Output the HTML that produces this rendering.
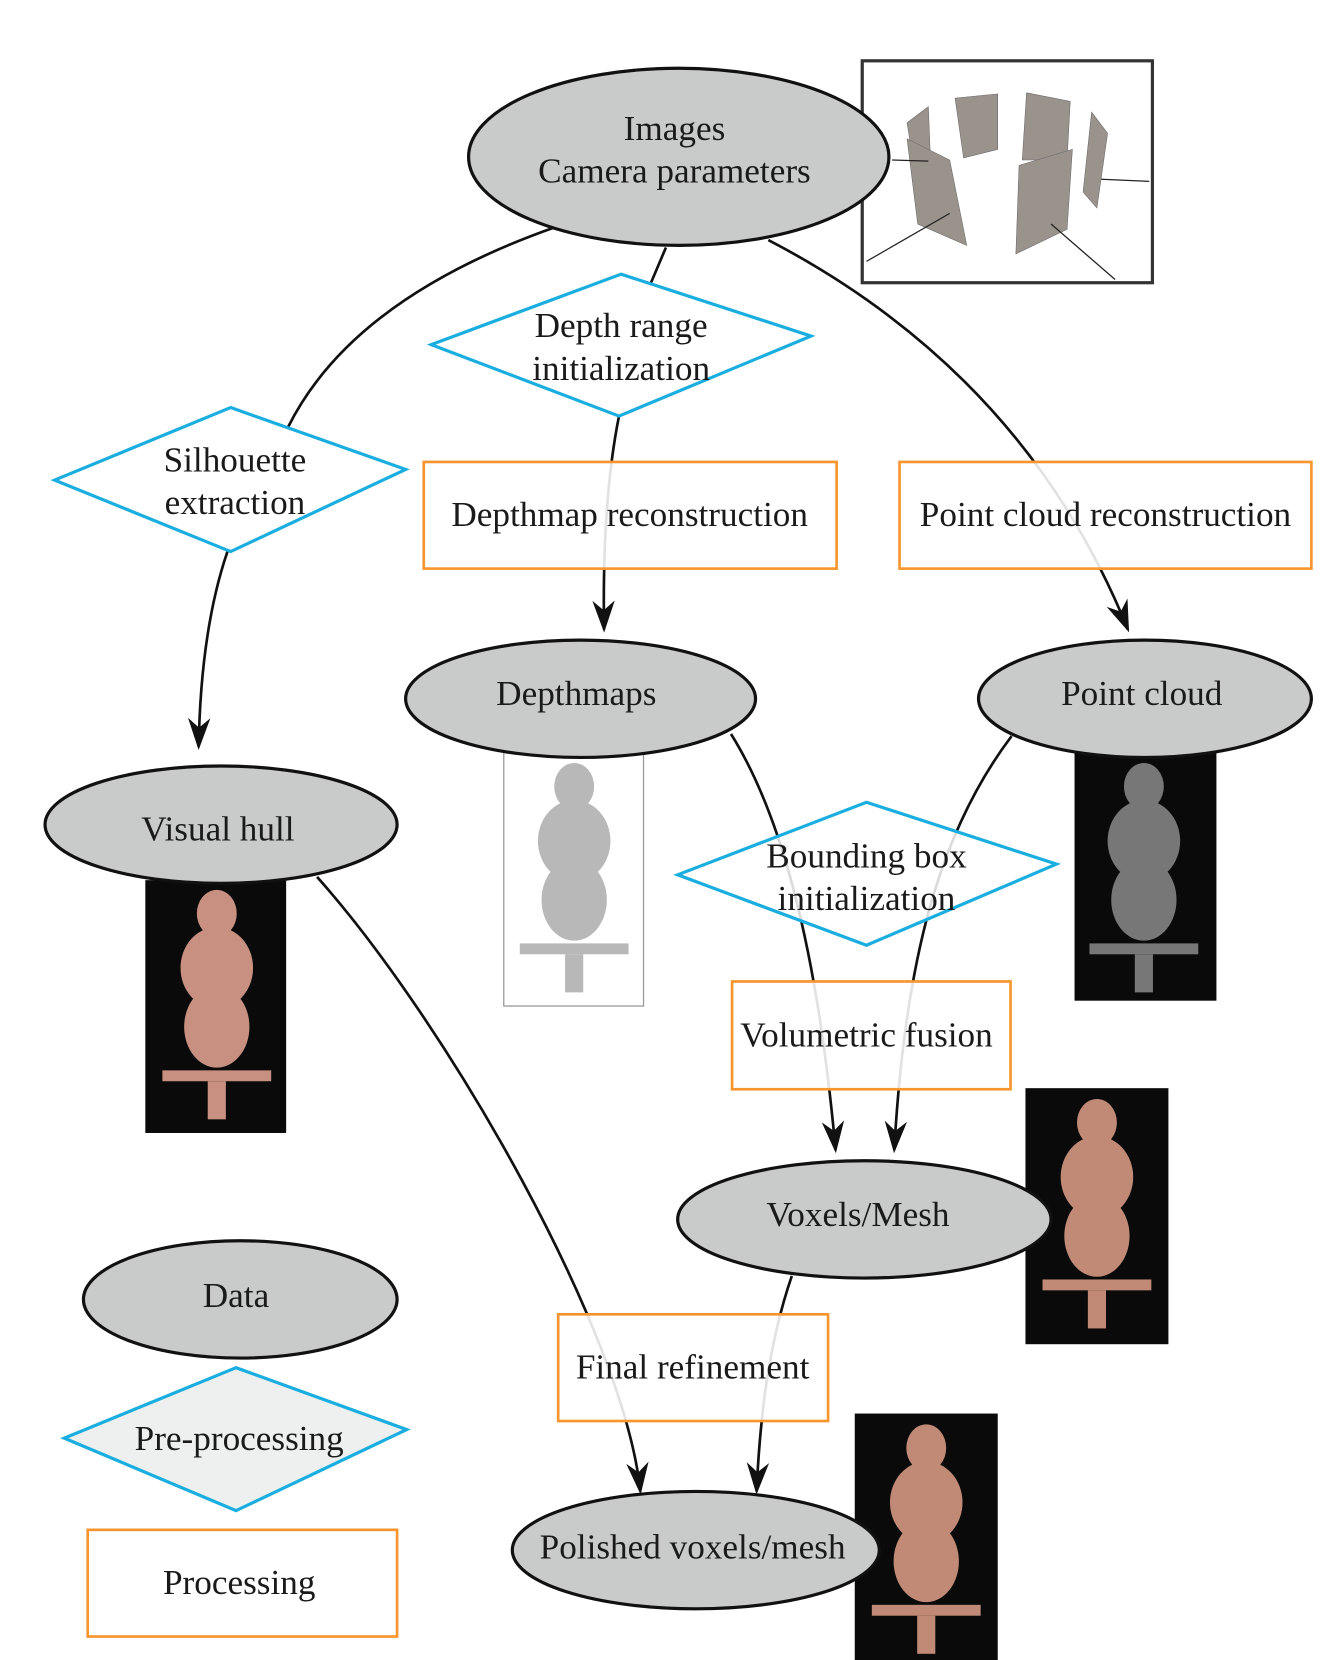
<!DOCTYPE html>
<html><head><meta charset="utf-8"><style>
html,body{margin:0;padding:0;background:#fff;}
svg{display:block;}
text{font-family:"Liberation Serif",serif;font-size:33px;fill:#1a1a1a;text-anchor:middle;}
</style></head><body>
<svg width="1334" height="1660" viewBox="0 0 1250 1556" xmlns="http://www.w3.org/2000/svg">
<defs>
<marker id="ar" viewBox="0 0 20 20" refX="18" refY="10" markerWidth="30" markerHeight="30" markerUnits="userSpaceOnUse" orient="auto">
<path d="M0,3 L20,10 L0,17 L6,10 Z" fill="#111"/>
</marker>
<g id="statue" transform="scale(0.85)">
<ellipse cx="0" cy="-95" rx="22" ry="26"/>
<ellipse cx="0" cy="-35" rx="40" ry="45"/>
<ellipse cx="0" cy="30" rx="36" ry="45"/>
<rect x="-60" y="78" width="120" height="12"/>
<rect x="-10" y="90" width="20" height="42"/>
</g>
</defs>

<g fill="none" stroke="#111" stroke-width="2.5">
<path d="M520,213 Q330,280 270,400"/>
<path d="M213,517 Q188,590 186,700" marker-end="url(#ar)"/>
<path d="M624,232 L610,265"/>
<path d="M580,390 Q564,470 566,590" marker-end="url(#ar)"/>
<path d="M720,225 Q960,350 1057,590" marker-end="url(#ar)"/>
<path d="M685,688 C730,760 765,880 783,1078" marker-end="url(#ar)"/>
<path d="M948,690 C880,780 848,900 838,1078" marker-end="url(#ar)"/>
<path d="M297,822 C420,960 585,1250 600,1398" marker-end="url(#ar)"/>
<path d="M742,1196 C720,1260 712,1330 709,1398" marker-end="url(#ar)"/>
</g>

<rect x="808" y="57" width="272" height="208" fill="#fff" stroke="#333" stroke-width="3"/>
<g fill="#9a938c" stroke="#666" stroke-width="0.5">
<polygon points="850,115 870,100 872,150 858,165"/>
<polygon points="850,130 890,150 906,230 860,210"/>
<polygon points="895,92 935,88 935,140 903,148"/>
<polygon points="962,87 1003,95 1000,150 958,150"/>
<polygon points="955,155 1005,140 1000,215 952,238"/>
<polygon points="1023,105 1038,125 1028,195 1015,180"/>
</g>
<g stroke="#222" stroke-width="1.2" fill="none">
<path d="M812,245 L890,200"/><path d="M1045,262 L985,210"/><path d="M1032,168 L1077,170"/><path d="M836,150 L870,151"/>
</g>

<ellipse cx="636" cy="147" rx="197" ry="83" fill="#c9cbca" stroke="#111" stroke-width="3"/>
<text x="632" y="131">Images</text>
<text x="632" y="171">Camera parameters</text>

<polygon points="582,257 760,315 580,390 404,323" fill="rgba(255,255,255,0.85)" stroke="#1aaee0" stroke-width="3"/>
<text x="582" y="316">Depth range</text>
<text x="582" y="356">initialization</text>
<polygon points="216,382 380,440 216,517 51,450" fill="rgba(255,255,255,0.85)" stroke="#1aaee0" stroke-width="3"/>
<text x="220" y="442">Silhouette</text>
<text x="220" y="482">extraction</text>

<rect x="397" y="433" width="387" height="100" fill="rgba(255,255,255,0.88)" stroke="#f7962e" stroke-width="2.5"/>
<text x="590" y="493">Depthmap reconstruction</text>
<rect x="843" y="433" width="386" height="100" fill="rgba(255,255,255,0.88)" stroke="#f7962e" stroke-width="2.5"/>
<text x="1036" y="493">Point cloud reconstruction</text>

<rect x="472" y="705" width="131" height="238" fill="#fff" stroke="#999" stroke-width="1.2"/>
<g fill="#b8b8b8" transform="translate(538,818)"><use href="#statue"/></g>
<rect x="1007" y="705" width="133" height="233" fill="#0a0a0a"/>
<g fill="#777" transform="translate(1072,818)"><use href="#statue"/></g>
<rect x="136" y="825" width="132" height="237" fill="#0a0a0a"/>
<g fill="#c89080" transform="translate(203,937)"><use href="#statue"/></g>

<ellipse cx="544" cy="655" rx="164" ry="55" fill="#c9cbca" stroke="#111" stroke-width="3"/>
<text x="540" y="661">Depthmaps</text>
<ellipse cx="1073" cy="655" rx="156" ry="55" fill="#c9cbca" stroke="#111" stroke-width="3"/>
<text x="1070" y="661">Point cloud</text>
<ellipse cx="207" cy="773" rx="165" ry="55" fill="#c9cbca" stroke="#111" stroke-width="3"/>
<text x="204" y="788">Visual hull</text>

<polygon points="812,752 990,810 812,886 635,820" fill="rgba(255,255,255,0.85)" stroke="#1aaee0" stroke-width="3"/>
<text x="812" y="813">Bounding box</text>
<text x="812" y="853">initialization</text>

<rect x="686" y="920" width="261" height="101" fill="rgba(255,255,255,0.88)" stroke="#f7962e" stroke-width="2.5"/>
<text x="812" y="981">Volumetric fusion</text>

<rect x="961" y="1020" width="134" height="240" fill="#0a0a0a"/>
<g fill="#c08a76" transform="translate(1028,1133)"><use href="#statue"/></g>
<ellipse cx="810" cy="1143" rx="175" ry="55" fill="#c9cbca" stroke="#111" stroke-width="3"/>
<text x="804" y="1149">Voxels/Mesh</text>

<rect x="523" y="1232" width="253" height="100" fill="rgba(255,255,255,0.88)" stroke="#f7962e" stroke-width="2.5"/>
<text x="649" y="1292">Final refinement</text>

<rect x="801" y="1325" width="134" height="238" fill="#0a0a0a"/>
<g fill="#c08a76" transform="translate(868,1438)"><use href="#statue"/></g>
<ellipse cx="652" cy="1453" rx="172" ry="55" fill="#c9cbca" stroke="#111" stroke-width="3"/>
<text x="649" y="1461">Polished voxels/mesh</text>

<ellipse cx="225" cy="1218" rx="147" ry="55" fill="#c9cbca" stroke="#111" stroke-width="3"/>
<text x="221" y="1225">Data</text>
<polygon points="221,1282 381,1340 221,1416 60,1348" fill="#eef0f0" stroke="#1aaee0" stroke-width="3"/>
<text x="224" y="1359">Pre-processing</text>
<rect x="82" y="1434" width="290" height="100" fill="#fff" stroke="#f7962e" stroke-width="2.5"/>
<text x="224" y="1494">Processing</text>
</svg>
</body></html>
